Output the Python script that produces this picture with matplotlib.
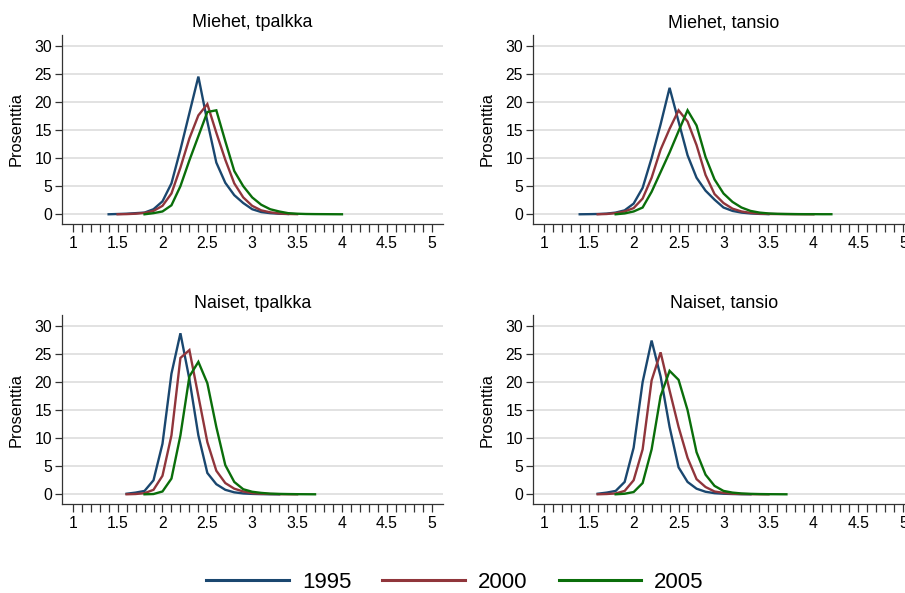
import numpy as np
import matplotlib
matplotlib.use("Agg")
import matplotlib.pyplot as plt
from matplotlib.ticker import FixedLocator
from matplotlib.lines import Line2D

plt.rcParams['font.family'] = ['Liberation Sans', 'DejaVu Sans']

years = ["1995", "2000", "2005"]
colors = ["#1a476f", "#90353b", "#0a6e0a"]
titles = ["Miehet, tpalkka", "Miehet, tansio", "Naiset, tpalkka", "Naiset, tansio"]
ylabel = "Prosenttia"
xtick_vals = [1, 1.5, 2, 2.5, 3, 3.5, 4, 4.5, 5]
xtick_labels = ["1", "1.5", "2", "2.5", "3", "3.5", "4", "4.5", "5"]
ytick_vals = [0, 5, 10, 15, 20, 25, 30]

# ---- Miehet, tpalkka ----
m_tp_1995_start = 1.4
m_tp_1995 = [0, 0.05, 0.1, 0.2, 0.3, 0.9, 2.3, 5.5, 11.5, 18.0, 24.5, 16.5, 9.2, 5.6, 3.4,
             2.0, 0.9, 0.4, 0.2, 0.1, 0.05]
m_tp_2000_start = 1.5
m_tp_2000 = [0, 0.03, 0.1, 0.25, 0.6, 1.5, 3.7, 8.3, 13.5, 17.6, 19.6, 14.5, 9.7, 5.5, 3.0,
             1.5, 0.7, 0.35, 0.15, 0.06, 0.02]
m_tp_2005_start = 1.8
m_tp_2005 = [0, 0.2, 0.5, 1.6, 5.0, 9.6, 13.9, 18.2, 18.5, 13.0, 7.7, 5.0, 3.0, 1.7, 0.9,
             0.5, 0.2, 0.1, 0.05, 0.03, 0.02, 0.01, 0.0]

# ---- Miehet, tansio ----
m_ta_1995_start = 1.4
m_ta_1995 = [0, 0.02, 0.05, 0.12, 0.3, 0.7, 1.9, 4.7, 10.0, 16.0, 22.5, 16.5, 10.5, 6.5, 4.2,
             2.6, 1.2, 0.6, 0.3, 0.15, 0.07, 0.03]
m_ta_2000_start = 1.6
m_ta_2000 = [0, 0.05, 0.2, 0.5, 1.1, 2.8, 6.5, 11.5, 15.2, 18.5, 16.5, 12.3, 7.0, 3.6, 2.0,
             1.0, 0.5, 0.25, 0.12, 0.06, 0.04, 0.03, 0.02, 0.01, 0.0]
m_ta_2005_start = 1.8
m_ta_2005 = [0, 0.15, 0.5, 1.2, 4.0, 7.5, 11.0, 14.8, 18.5, 15.8, 10.2, 6.2, 3.7, 2.2, 1.2,
             0.6, 0.3, 0.15, 0.08, 0.05, 0.03, 0.02, 0.02, 0.01, 0.01]

# ---- Naiset, tpalkka ----
n_tp_1995_start = 1.6
n_tp_1995 = [0.1, 0.3, 0.6, 2.5, 9.0, 21.5, 28.7, 20.5, 10.5, 3.8, 1.8, 0.8, 0.35, 0.15,
             0.07, 0.03, 0.01, 0.0]
n_tp_2000_start = 1.6
n_tp_2000 = [0, 0.05, 0.2, 0.8, 3.3, 10.5, 24.3, 25.7, 17.5, 9.3, 4.2, 2.0, 1.0, 0.5, 0.2,
             0.1, 0.05, 0.02, 0.01, 0.0]
n_tp_2005_start = 1.8
n_tp_2005 = [0, 0.05, 0.5, 2.8, 10.5, 21.0, 23.6, 19.8, 12.0, 5.2, 2.2, 0.9, 0.45, 0.25,
             0.12, 0.07, 0.04, 0.02, 0.01, 0.0]

# ---- Naiset, tansio ----
n_ta_1995_start = 1.6
n_ta_1995 = [0.1, 0.3, 0.6, 2.2, 8.3, 20.0, 27.4, 21.0, 12.0, 4.8, 2.2, 1.0, 0.45, 0.2,
             0.1, 0.05, 0.02, 0.01]
n_ta_2000_start = 1.6
n_ta_2000 = [0, 0.05, 0.15, 0.6, 2.5, 8.0, 20.3, 25.3, 18.5, 12.0, 6.5, 2.7, 1.3, 0.5,
             0.25, 0.1, 0.05, 0.02, 0.01, 0.0]
n_ta_2005_start = 1.8
n_ta_2005 = [0, 0.1, 0.4, 2.0, 8.0, 17.5, 22.0, 20.4, 15.0, 7.5, 3.5, 1.5, 0.6, 0.3, 0.15,
             0.08, 0.04, 0.02, 0.01, 0.0]

panels = [
    [(m_tp_1995_start, m_tp_1995), (m_tp_2000_start, m_tp_2000), (m_tp_2005_start, m_tp_2005)],
    [(m_ta_1995_start, m_ta_1995), (m_ta_2000_start, m_ta_2000), (m_ta_2005_start, m_ta_2005)],
    [(n_tp_1995_start, n_tp_1995), (n_tp_2000_start, n_tp_2000), (n_tp_2005_start, n_tp_2005)],
    [(n_ta_1995_start, n_ta_1995), (n_ta_2000_start, n_ta_2000), (n_ta_2005_start, n_ta_2005)],
]

W, H = 905, 593
fig = plt.figure(figsize=(W / 100, H / 100), dpi=100)
fig.patch.set_facecolor("white")

# axes rectangles in pixels: (left, top, right, bottom)
rects = [
    (61.7, 35.0, 443.0, 224.0),
    (532.7, 35.0, 914.6, 224.0),
    (61.7, 315.3, 443.0, 504.0),
    (532.7, 315.3, 914.6, 504.0),
]

for rect, title, series in zip(rects, titles, panels):
    l, t, r, b = rect
    ax = fig.add_axes([l / W, 1 - b / H, (r - l) / W, (b - t) / H])
    ax.set_xlim(0.877, 5.126)
    ax.set_ylim(-1.73, 31.9)
    for y in ytick_vals:
        ax.axhline(y, color="#dadada", lw=1.1, zorder=0)
    for (start, vals), c in zip(series, colors):
        x = np.round(start + 0.1 * np.arange(len(vals)), 2)
        ax.plot(x, vals, color=c, lw=1.7, zorder=3, solid_joinstyle="miter")
    for s in ["top", "right"]:
        ax.spines[s].set_visible(False)
    for s in ["left", "bottom"]:
        ax.spines[s].set_color("#333333")
        ax.spines[s].set_linewidth(0.9)
    ax.set_xticks(xtick_vals)
    ax.set_xticklabels(xtick_labels)
    ax.xaxis.set_minor_locator(FixedLocator(np.round(np.arange(1.0, 5.01, 0.1), 2)))
    ax.set_yticks(ytick_vals)
    ax.tick_params(axis="x", which="both", direction="out", length=6, width=0.9,
                   color="#333333", labelsize=11.3, pad=2.5)
    ax.tick_params(axis="y", direction="out", length=5, width=0.9, color="#333333",
                   labelsize=11.3, pad=2)
    ax.set_ylabel(ylabel, fontsize=11.8, labelpad=7.5)
    ax.set_title(title, fontsize=12.9, pad=5.5)
    ax.set_facecolor("white")

handles = [Line2D([], [], color=c, lw=2.2) for c in colors]
fig.legend(handles, years, loc="center", bbox_to_anchor=(455 / W, 1 - 582.5 / H), ncol=3,
           frameon=False, fontsize=16, handlelength=3.7, handletextpad=0.6,
           columnspacing=1.4, borderpad=0.2)

fig.savefig("out.png", dpi=100, facecolor="white")
